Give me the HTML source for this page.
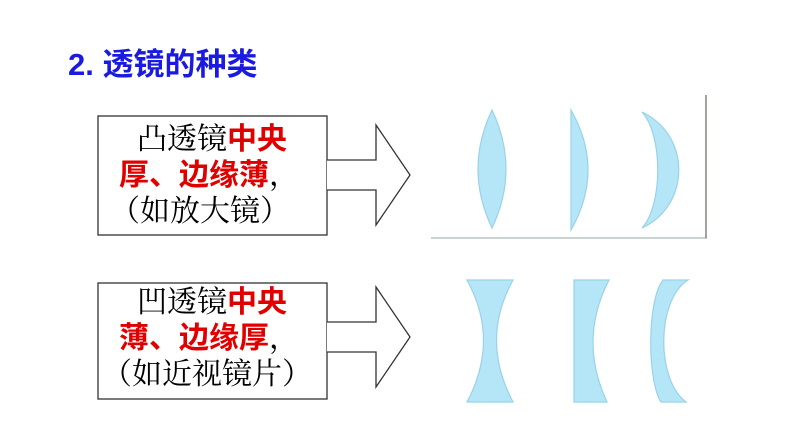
<!DOCTYPE html>
<html><head><meta charset="utf-8"><style>
body{margin:0;width:800px;height:442px;background:#fff;overflow:hidden;position:relative;font-family:"Liberation Serif","Noto Serif CJK SC",serif}
.t{position:absolute;font-size:30px;white-space:nowrap;line-height:32px}
.r{color:#e00000;font-weight:bold;font-family:"Liberation Sans","Noto Sans CJK SC",sans-serif}
</style></head><body>
<svg width="800" height="442" style="position:absolute;left:0;top:0">
<g fill="#fff" stroke="#333" stroke-width="1.3">
<rect x="98" y="116" width="229" height="119"/>
<path d="M327 160 H376 V125 L410 175 L376 225 V190 H327"/>
<rect x="98" y="283" width="229" height="116"/>
<path d="M327 322 H376 V287 L410 337 L376 387 V352 H327"/>
</g>
<line x1="431" y1="238" x2="707" y2="238" stroke="#aab8b8" stroke-width="1.3"/>
<line x1="706" y1="95" x2="706" y2="238" stroke="#667766" stroke-width="1.3"/>
<g fill="#b5e6f8" stroke="#98d2ea" stroke-width="1.2">
<path d="M492 110 Q520 169 492 228 Q464 169 492 110Z"/>
<path d="M571 110 Q605 170 571 230Z"/>
<path d="M642 112 C691 135 691 205 642 228 C663 205 663 135 642 112Z"/>
<path d="M467 280 H513 Q480 340 513 402 H467 Q500 340 467 280Z"/>
<path d="M574 280 H609 Q578 340 607 402 H574Z"/>
<path d="M663 280 H688 C656 300 656 380 686 402 H661 C647 380 647 300 663 280Z"/>
</g>
</svg>
<div class="t" style="left:68px;top:49px;color:#1a1ae0;font-weight:bold;font-size:31px;font-family:'Liberation Sans','Noto Sans CJK SC',sans-serif">2. 透镜的种类</div>
<div class="t" style="left:137px;top:124px">凸透镜<span class="r">中央</span></div>
<div class="t" style="left:119px;top:160px"><span class="r">厚、边缘薄</span>，</div>
<div class="t" style="left:110px;top:196px">（如放大镜）</div>
<div class="t" style="left:137px;top:287px">凹透镜<span class="r">中央</span></div>
<div class="t" style="left:119px;top:323px"><span class="r">薄、边缘厚</span>，</div>
<div class="t" style="left:102px;top:359px">（如近视镜片）</div>
</body></html>
